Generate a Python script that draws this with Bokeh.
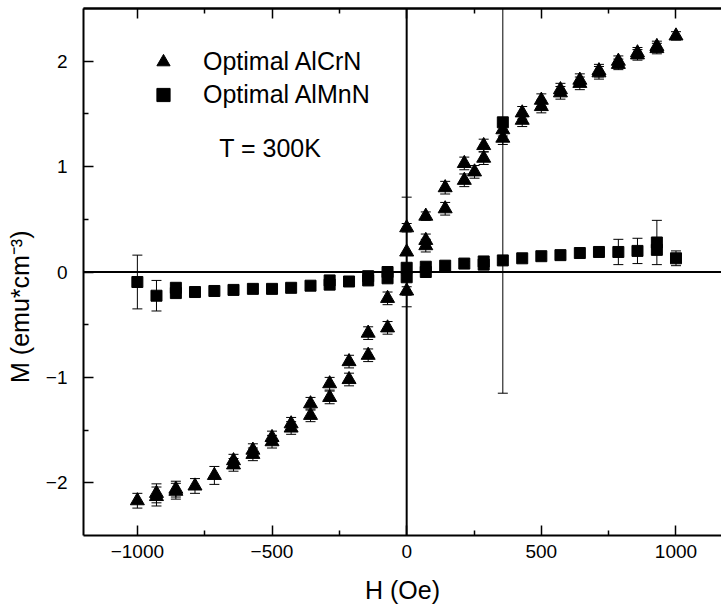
from bokeh.plotting import figure
from bokeh.models import (Range1d, FixedTicker, LinearAxis, Span, Whisker, TeeHead,
                          ColumnDataSource, Legend, LegendItem, Label)
from bokeh.embed import file_html
from bokeh.resources import INLINE

# ---- data: Optimal AlCrN (triangles) ----
cr_h = [-1000, -929, -929, -857, -857, -786, -714, -643, -643, -571, -571,
        -500, -500, -429, -429, -357, -357, -286, -286, -214, -214, -143, -143,
        -71, -71, 0, 0, 0, 71, 71, 71, 143, 143, 214, 214, 252, 286, 286,
        357, 357, 429, 429, 500, 500, 571, 571, 643, 643, 714, 714, 786, 786,
        857, 857, 929, 929, 1000]
cr_m = [-2.17, -2.10, -2.13, -2.06, -2.08, -2.03, -1.93, -1.79, -1.83, -1.69, -1.73,
        -1.57, -1.61, -1.44, -1.48, -1.25, -1.36, -1.06, -1.19, -0.85, -1.02, -0.58, -0.79,
        -0.25, -0.53, 0.42, 0.19, -0.18, 0.53, 0.30, 0.25, 0.80, 0.60, 1.03, 0.87, 0.95, 1.20, 1.08,
        1.35, 1.27, 1.51, 1.44, 1.63, 1.57, 1.73, 1.70, 1.82, 1.79, 1.91, 1.89, 2.00, 1.97,
        2.08, 2.06, 2.14, 2.12, 2.24]
cr_err = [0.07, 0.09, 0.09, 0.075, 0.075, 0.07, 0.085, 0.06, 0.06, 0.06, 0.06,
          0.06, 0.06, 0.06, 0.06, 0.06, 0.06, 0.06, 0.06, 0.06, 0.06, 0.06, 0.06,
          0.06, 0.06, 0.04, 0.52, 0.04, 0.04, 0.06, 0.06, 0.06, 0.06, 0.06, 0.06, 0.06, 0.06, 0.06,
          0.06, 0.06, 0.06, 0.06, 0.06, 0.06, 0.06, 0.06, 0.06, 0.06, 0.06, 0.06, 0.05, 0.05,
          0.05, 0.05, 0.05, 0.05, 0.04]

# ---- data: Optimal AlMnN (squares) ----
mn_h = [-1000, -929, -857, -857, -786, -714, -643, -571, -500, -429, -357,
        -286, -286, -214, -143, -143, -71, -71, 0, 0, 71, 71, 143, 214, 286, 286,
        357, 357, 429, 500, 571, 643, 714, 786, 857, 929, 929, 1000]
mn_m = [-0.095, -0.225, -0.15, -0.20, -0.19, -0.18, -0.17, -0.16, -0.16, -0.15, -0.13,
        -0.08, -0.12, -0.09, -0.04, -0.08, 0.00, -0.06, 0.04, -0.05, 0.05, 0.00, 0.06, 0.08, 0.10, 0.07,
        0.11, 1.42, 0.13, 0.15, 0.16, 0.18, 0.19, 0.19, 0.20, 0.28, 0.21, 0.13]
mn_err = [0.255, 0.145, 0.02, 0.02, 0.02, 0.02, 0.02, 0.02, 0.02, 0.02, 0.02,
          0.02, 0.02, 0.02, 0.02, 0.02, 0.02, 0.02, 0.02, 0.02, 0.02, 0.02, 0.02, 0.02, 0.02, 0.02,
          0.02, 2.57, 0.02, 0.02, 0.02, 0.02, 0.02, 0.12, 0.12, 0.21, 0.02, 0.07]

x_major = [-1000, -500, 0, 500, 1000]
x_minor = [-750, -250, 250, 750]
y_major = [-2, -1, 0, 1, 2]
y_minor = [-1.5, -0.5, 0.5, 1.5]

x_title = "H (Oe)"
y_title = "M (emu*cm\u207b\u00b3)"

FONT = "Liberation Sans"

cr_src = ColumnDataSource(dict(h=cr_h, m=cr_m,
                               upper=[m + e for m, e in zip(cr_m, cr_err)],
                               lower=[m - e for m, e in zip(cr_m, cr_err)]))
mn_src = ColumnDataSource(dict(h=mn_h, m=mn_m,
                               upper=[m + e for m, e in zip(mn_m, mn_err)],
                               lower=[m - e for m, e in zip(mn_m, mn_err)]))

p = figure(width=721, height=611, output_backend="svg", toolbar_location=None,
           x_range=Range1d(-1200, 1169), y_range=Range1d(-2.5, 2.5),
           x_axis_label=x_title,
           # trailing no-break spaces move the vertical title a little downwards
           y_axis_label=y_title + "\u00a0" * 10,
           min_border_left=83, min_border_right=0, min_border_top=8, min_border_bottom=76)
p.grid.visible = False
p.outline_line_color = None
p.background_fill_color = "white"
p.border_fill_color = "white"


def style_axis(ax):
    ax.axis_line_width = 2
    ax.axis_line_color = "black"
    ax.major_tick_in = 10
    ax.major_tick_out = 0
    ax.minor_tick_in = 5
    ax.minor_tick_out = 0
    ax.major_tick_line_width = 1.5
    ax.minor_tick_line_width = 1.5
    ax.major_tick_line_color = "black"
    ax.minor_tick_line_color = "black"
    ax.major_label_text_font = FONT
    ax.major_label_text_font_size = "19px"
    ax.major_label_text_color = "black"
    ax.axis_label_text_font = FONT
    ax.axis_label_text_font_size = "25px"
    ax.axis_label_text_font_style = "normal"
    ax.axis_label_text_color = "black"


p.xaxis.ticker = FixedTicker(ticks=x_major, minor_ticks=x_minor)
p.yaxis.ticker = FixedTicker(ticks=y_major, minor_ticks=y_minor)
style_axis(p.xaxis[0])
style_axis(p.yaxis[0])
p.xaxis.major_label_standoff = 9
p.xaxis.axis_label_standoff = 15
p.yaxis.major_label_standoff = 16
p.yaxis.axis_label_standoff = 9

# top frame edge: mirror ticks without labels (long ones, then short ones)
for ticks, length in ((x_major, 10), (x_minor, 5)):
    top = LinearAxis(ticker=FixedTicker(ticks=[], minor_ticks=ticks),
                     major_label_standoff=0, axis_label_standoff=0)
    style_axis(top)
    top.minor_tick_in = length
    p.add_layout(top, "above")

p.add_layout(Span(location=0, dimension="height", line_color="black", line_width=2))
p.add_layout(Span(location=0, dimension="width", line_color="black", line_width=2))

for src in (cr_src, mn_src):
    p.add_layout(Whisker(source=src, base="h", upper="upper", lower="lower",
                         dimension="height", line_color="black", line_width=1,
                         upper_head=TeeHead(size=10, line_color="black", line_width=1),
                         lower_head=TeeHead(size=10, line_color="black", line_width=1)))

cr_r = p.scatter("h", "m", source=cr_src, marker="triangle", size=14,
                 fill_color="black", line_color="black")
mn_r = p.scatter("h", "m", source=mn_src, marker="square", size=11,
                 fill_color="black", line_color="black")

legend = Legend(items=[LegendItem(label="Optimal AlCrN", renderers=[cr_r]),
                       LegendItem(label="Optimal AlMnN", renderers=[mn_r])],
                location=(60, 424), glyph_width=40, glyph_height=33, label_height=33,
                label_standoff=20, spacing=0, padding=0, margin=0,
                border_line_color=None, background_fill_alpha=0,
                label_text_font=FONT, label_text_font_size="25px", label_text_color="black")
p.add_layout(legend, "center")

p.add_layout(Label(x=-696, y=1.18, text="T = 300K", text_font=FONT, text_font_size="25px",
                   text_color="black", text_baseline="alphabetic"))

open("out.html", "w").write(file_html(p, INLINE))
